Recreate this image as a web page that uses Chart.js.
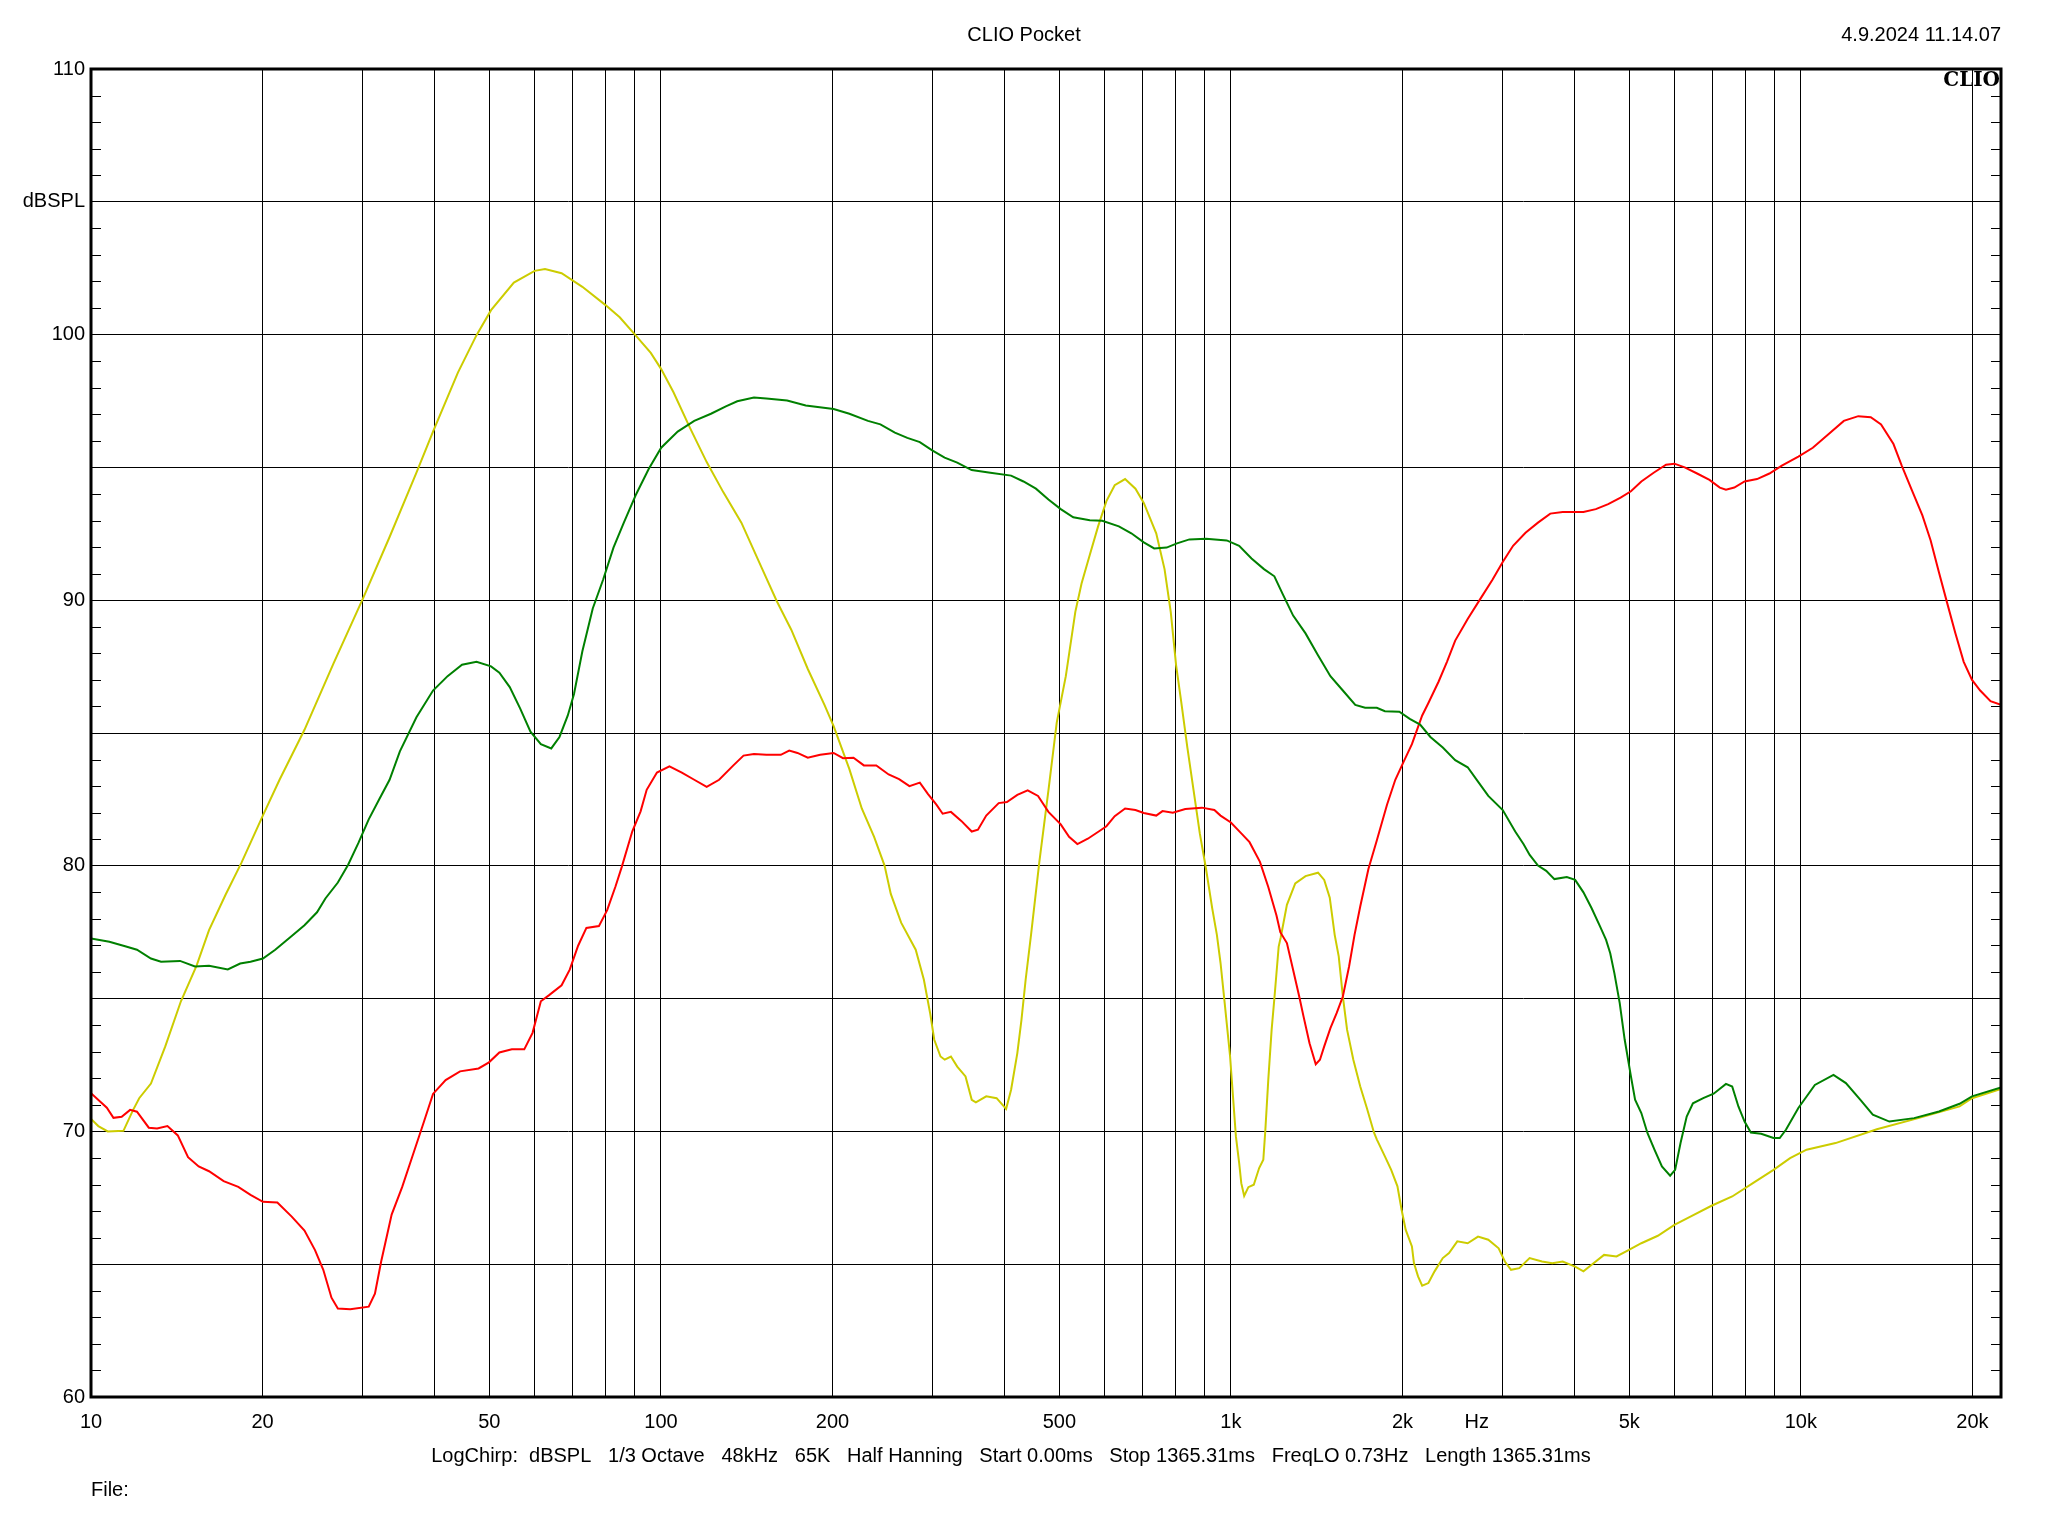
<!DOCTYPE html>
<html><head><meta charset="utf-8">
<script src="https://cdn.jsdelivr.net/npm/chart.js@4.4.1/dist/chart.umd.min.js"></script>
<style>html,body{margin:0;padding:0;background:#fff;}canvas{display:block;}</style>
</head><body>
<canvas id="c" width="2048" height="1536"></canvas>
<script>
// ---- data: [frequency Hz, dBSPL] ----
const yellowCurve = [[10,70.47],[10.3,70.2],[10.7,70.0],[11.4,70.02],[11.85,70.8],[12.15,71.25],[12.74,71.8],[13.5,73.2],[14.38,74.9],[15.32,76.24],[16.11,77.58],[17.23,78.92],[18.36,80.11],[20.03,81.9],[21.42,83.24],[23.69,85.12],[26.63,87.61],[30.05,90.1],[33.41,92.38],[37.24,94.8],[39.82,96.35],[44.03,98.57],[47.47,99.98],[50.34,100.92],[55.2,101.96],[60.03,102.4],[62.6,102.47],[66.94,102.31],[72.8,101.8],[79.84,101.12],[84.66,100.65],[90.2,99.98],[95.98,99.31],[100.1,98.7],[105.2,97.83],[112.5,96.48],[120.3,95.2],[128.7,94.06],[138.4,92.92],[150.6,91.17],[159.7,89.96],[169.3,88.89],[181,87.41],[193.6,86.06],[200.9,85.26],[214.1,83.64],[225.1,82.16],[236.6,81.09],[246.8,80.01],[253.1,78.94],[263.9,77.86],[279.9,76.84],[289.3,75.71],[296.7,74.45],[301.7,73.45],[309.4,72.82],[314.7,72.7],[322.7,72.82],[331,72.44],[342.3,72.07],[351,71.19],[356.9,71.09],[372.2,71.32],[388.1,71.25],[403.3,70.85],[411.5,71.57],[422,72.95],[429.1,74.2],[436.4,75.71],[446,77.4],[461.2,80.14],[478.5,82.84],[494.8,85.39],[513.3,87.14],[533.4,89.56],[547,90.63],[565.6,91.71],[584.8,92.78],[604.8,93.73],[625.4,94.33],[652.2,94.56],[680.1,94.2],[703.4,93.66],[739.6,92.52],[764.9,91.17],[784.3,89.56],[801.6,87.54],[817.9,86.2],[838.8,84.45],[860.1,82.84],[882,81.22],[904.5,79.88],[927.4,78.4],[945,77.4],[959.1,76.34],[975.3,74.83],[996.8,72.82],[1008.5,71.32],[1020.5,69.81],[1034.2,68.8],[1042.9,68.05],[1055.2,67.57],[1073.2,67.9],[1096.9,67.99],[1121,68.62],[1140,68.93],[1149.5,70.06],[1163.1,71.94],[1179,73.83],[1192.9,75.08],[1213,76.96],[1223,77.3],[1254,78.53],[1297,79.34],[1352,79.61],[1422,79.74],[1458,79.47],[1491,78.8],[1521,77.4],[1546,76.59],[1572,75.08],[1599,73.83],[1640,72.7],[1686,71.7],[1731,70.9],[1783,69.95],[1803,69.7],[1863,69.06],[1911,68.55],[1960,67.93],[1993,67.05],[2026,66.3],[2078,65.67],[2095,65.04],[2130,64.54],[2166,64.19],[2221,64.29],[2277,64.73],[2354,65.23],[2414,65.42],[2496,65.86],[2603,65.79],[2714,66.04],[2829,65.92],[2950,65.6],[3025,65.1],[3101,64.79],[3206,64.85],[3343,65.23],[3515,65.1],[3664,65.04],[3821,65.1],[4018,64.91],[4155,64.73],[4295,64.98],[4516,65.35],[4749,65.29],[4994,65.54],[5250,65.79],[5612,66.07],[6000,66.48],[6414,66.8],[6971,67.2],[7578,67.55],[8240,68.05],[8955,68.55],[9575,68.99],[10235,69.31],[11505,69.56],[13595,70.08],[16070,70.5],[18990,70.94],[19970,71.25],[22450,71.6]];

const greenCurve = [[10,77.26],[10.77,77.14],[11.52,76.96],[12.04,76.84],[12.74,76.51],[13.27,76.39],[14.33,76.42],[15.22,76.21],[16.11,76.24],[17.38,76.1],[18.27,76.32],[19.05,76.39],[20.03,76.51],[21.05,76.84],[22.5,77.36],[23.69,77.76],[24.92,78.25],[25.78,78.77],[27.11,79.37],[28.26,80.04],[29.46,80.86],[30.71,81.75],[32.01,82.49],[33.41,83.24],[34.83,84.31],[37.24,85.59],[39.82,86.6],[42.23,87.14],[44.77,87.57],[47.47,87.68],[50.34,87.51],[52.06,87.27],[54.29,86.73],[56.61,85.93],[59.03,85.05],[61.56,84.58],[64.2,84.42],[66.37,84.85],[68.64,85.66],[70.38,86.47],[72.8,88.08],[75.92,89.69],[79.16,90.77],[82.55,91.98],[86.08,92.92],[90.51,94.0],[95.17,94.94],[100.1,95.74],[107,96.35],[114.4,96.75],[122.4,97.02],[130,97.3],[136.1,97.49],[145.6,97.63],[153.1,97.59],[166.5,97.52],[179.5,97.33],[200.9,97.2],[214.1,97.02],[230.8,96.75],[242.7,96.62],[257.3,96.31],[270.6,96.11],[284.6,95.95],[299.2,95.64],[314.6,95.37],[331,95.18],[350.9,94.9],[378.4,94.8],[411.5,94.69],[432.6,94.47],[454.9,94.2],[478.5,93.79],[502.9,93.43],[529,93.12],[565.6,93.01],[594.7,92.99],[636,92.78],[668.8,92.52],[703.4,92.18],[733.5,91.95],[771.3,91.98],[804.3,92.14],[845.7,92.29],[904.5,92.31],[983.4,92.25],[1034,92.05],[1087,91.57],[1143,91.17],[1192,90.9],[1233,90.23],[1286,89.42],[1352,88.75],[1421,87.94],[1495,87.14],[1572,86.6],[1653,86.06],[1720,85.95],[1803,85.95],[1863,85.82],[1975,85.8],[2060,85.53],[2148,85.32],[2239,84.85],[2354,84.45],[2475,83.98],[2603,83.71],[2714,83.17],[2829,82.63],[2999,82.1],[3154,81.29],[3261,80.82],[3344,80.41],[3458,80.01],[3575,79.81],[3695,79.5],[3885,79.58],[4018,79.47],[4155,79.0],[4295,78.4],[4441,77.73],[4553,77.21],[4630,76.71],[4708,75.96],[4811,74.83],[4909,73.45],[5034,72.07],[5119,71.19],[5250,70.69],[5383,69.93],[5536,69.31],[5705,68.68],[5898,68.33],[6018,68.55],[6151,69.56],[6306,70.56],[6467,71.06],[6742,71.25],[7031,71.42],[7390,71.79],[7578,71.69],[7771,70.94],[7967,70.37],[8171,69.96],[8519,69.91],[8955,69.75],[9183,69.75],[9416,70.06],[9901,70.88],[10583,71.75],[11410,72.13],[11997,71.82],[12722,71.19],[13374,70.63],[14301,70.37],[15807,70.5],[17475,70.75],[18990,71.04],[19970,71.32],[22450,71.65]];

const redCurve = [[10,71.44],[10.66,70.89],[10.95,70.51],[11.32,70.55],[11.71,70.81],[12.04,70.74],[12.63,70.14],[13.06,70.11],[13.62,70.2],[14.2,69.85],[14.8,69.03],[15.45,68.68],[16.11,68.5],[17.09,68.13],[18.13,67.91],[19.05,67.61],[20.03,67.35],[21.23,67.32],[22.5,66.79],[23.69,66.27],[24.72,65.53],[25.56,64.79],[26.42,63.74],[27.11,63.33],[28.5,63.3],[30.71,63.4],[31.49,63.89],[32.28,65.08],[33.69,66.87],[35.16,67.91],[36.69,69.1],[38.28,70.29],[39.82,71.41],[41.9,71.93],[44.41,72.26],[47.87,72.37],[49.92,72.6],[52.06,72.97],[54.75,73.09],[57.57,73.09],[59.53,73.71],[61.56,74.9],[63.65,75.13],[66.94,75.5],[69.18,76.09],[71.56,76.99],[74,77.66],[77.83,77.73],[80.47,78.33],[83.22,79.22],[85.37,79.96],[89.08,81.3],[92.11,82.05],[94.4,82.86],[98.4,83.51],[103.5,83.74],[108.8,83.51],[114.4,83.24],[120.3,82.97],[126.5,83.24],[134,83.78],[139.6,84.15],[145.6,84.21],[153.1,84.18],[162.3,84.18],[167.9,84.34],[173.6,84.25],[181,84.07],[190.3,84.18],[200.9,84.25],[208.7,84.05],[217.7,84.07],[227,83.78],[238.7,83.78],[250.9,83.44],[261.7,83.26],[272.9,83.0],[284.6,83.13],[294.2,82.7],[304.3,82.3],[312.1,81.96],[322.7,82.03],[336.5,81.69],[351,81.29],[359.9,81.36],[372.2,81.89],[391.4,82.36],[404.6,82.4],[422,82.67],[440,82.84],[458.8,82.63],[478.5,82.03],[502.9,81.56],[520.1,81.09],[537.9,80.82],[561,81.02],[589.8,81.33],[604.8,81.49],[625.4,81.87],[652.2,82.16],[680.1,82.1],[703.4,81.99],[739.6,81.89],[758.6,82.06],[790.9,82.0],[831.7,82.14],[889.5,82.19],[935.4,82.1],[959.1,81.89],[1000,81.63],[1042.9,81.22],[1078.3,80.89],[1124.6,80.15],[1163.1,79.2],[1202.3,78.13],[1221,77.5],[1254,77.09],[1286,76.08],[1318,75.08],[1341,74.33],[1374,73.32],[1409,72.53],[1433,72.7],[1458,73.2],[1495,73.89],[1533,74.45],[1572,75.08],[1612,76.21],[1648,77.4],[1686,78.46],[1743,79.88],[1803,80.95],[1879,82.3],[1943,83.24],[2009,83.91],[2078,84.58],[2166,85.66],[2221,86.13],[2315,86.94],[2394,87.68],[2475,88.48],[2603,89.29],[2736,90.03],[2877,90.77],[2999,91.44],[3127,92.05],[3288,92.54],[3458,92.92],[3634,93.26],[3821,93.32],[4155,93.32],[4368,93.43],[4592,93.62],[4828,93.86],[5034,94.1],[5250,94.47],[5518,94.8],[5801,95.1],[6000,95.14],[6256,95.0],[6577,94.77],[6914,94.53],[7209,94.24],[7390,94.16],[7643,94.24],[7967,94.47],[8378,94.56],[8809,94.77],[9262,95.07],[9901,95.41],[10496,95.74],[11127,96.21],[11896,96.75],[12613,96.93],[13266,96.89],[13828,96.62],[14540,95.88],[15033,95.07],[15673,94.13],[16341,93.19],[16896,92.25],[17475,91.04],[18064,89.89],[18677,88.75],[19310,87.68],[19970,87.0],[20640,86.6],[21520,86.2],[22450,86.06]];

const seriesColors = ['rgb(204,204,0)', 'rgb(0,128,0)', 'rgb(255,0,0)'];

// ---- axes ----
const xMin = 10, xMax = 22450;
const xGridValues = [10,20,30,40,50,60,70,80,90,100,200,300,400,500,600,700,800,900,1000,2000,3000,4000,5000,6000,7000,8000,9000,10000,20000];
const xUnitTick = 2700;
const xTickLabels = {10:'10',20:'20',50:'50',100:'100',200:'200',500:'500',1000:'1k',2000:'2k',2700:'Hz',5000:'5k',10000:'10k',20000:'20k'};
const yMin = 60, yMax = 110, yStep = 5;
const yTickLabels = {110:'110',105:'dBSPL',100:'100',90:'90',80:'80',70:'70',60:'60'};

// ---- texts ----
const titleText = 'CLIO Pocket';
const dateText = '4.9.2024 11.14.07';
const logoText = 'CLIO';
const infoText = 'LogChirp:  dBSPL   1/3 Octave   48kHz   65K   Half Hanning   Start 0.00ms   Stop 1365.31ms   FreqLO 0.73Hz   Length 1365.31ms';
const fileText = 'File:';

const FONT = '"Liberation Sans", Arial, sans-serif';

const decorPlugin = {
  id: 'decor',
  afterDatasetsDraw(chart) {
    const { ctx, chartArea: a } = chart;
    const y = chart.scales.y;
    ctx.save();
    // minor ticks every 1 dB on both sides
    ctx.strokeStyle = '#000';
    ctx.lineWidth = 1;
    ctx.beginPath();
    for (let v = yMin; v <= yMax; v++) {
      if (v % yStep === 0) continue;
      const py = Math.round(y.getPixelForValue(v)) + 0.5;
      ctx.moveTo(a.left, py); ctx.lineTo(a.left + 10, py);
      ctx.moveTo(a.right - 10, py); ctx.lineTo(a.right, py);
    }
    ctx.stroke();
    // frame
    ctx.lineWidth = 3;
    ctx.strokeRect(Math.round(a.left), Math.round(a.top), Math.round(a.right - a.left), Math.round(a.bottom - a.top));
    // texts
    ctx.fillStyle = '#000';
    ctx.textBaseline = 'middle';
    ctx.font = '20px ' + FONT;
    ctx.textAlign = 'center';
    ctx.fillText(titleText, chart.width / 2, 35.5);
    ctx.textAlign = 'right';
    ctx.fillText(dateText, a.right, 35.5);
    ctx.textAlign = 'center';
    ctx.fillText(infoText, 1011, 1456.5);
    ctx.textAlign = 'left';
    ctx.fillText(fileText, a.left, 1490.5);
    ctx.font = 'bold 20px "DejaVu Serif", "Liberation Serif", serif';
    ctx.textAlign = 'right';
    ctx.fillText(logoText, a.right - 1, 80.5);
    ctx.restore();
  }
};

const toPoints = arr => arr.map(p => ({ x: p[0], y: p[1] }));

new Chart(document.getElementById('c'), {
  type: 'scatter',
  data: {
    datasets: [
      { data: toPoints(greenCurve), borderColor: seriesColors[1] },
      { data: toPoints(redCurve), borderColor: seriesColors[2] },
      { data: toPoints(yellowCurve), borderColor: seriesColors[0] }
    ].map(d => Object.assign(d, { showLine: true, borderWidth: 2, pointRadius: 0, pointHoverRadius: 0, tension: 0, fill: false }))
  },
  options: {
    responsive: false,
    animation: false,
    events: [],
    layout: { padding: { left: 0, top: 69, right: 47, bottom: 0 } },
    plugins: { legend: { display: false }, tooltip: { enabled: false }, title: { display: false } },
    scales: {
      x: {
        type: 'logarithmic',
        min: xMin, max: xMax,
        afterBuildTicks: s => { s.ticks = xGridValues.concat([xUnitTick]).sort((p, q) => p - q).map(v => ({ value: v })); },
        afterFit: s => { s.height = 139; },
        ticks: {
          autoSkip: false, maxRotation: 0, minRotation: 0, padding: 13,
          color: '#000', font: { family: FONT, size: 20 },
          callback: v => (xTickLabels[v] !== undefined ? xTickLabels[v] : '')
        },
        grid: {
          drawTicks: false, lineWidth: 1,
          color: c => (c.tick && c.tick.value === xUnitTick ? 'rgba(0,0,0,0)' : '#000')
        },
        border: { display: false }
      },
      y: {
        type: 'linear',
        min: yMin, max: yMax,
        afterFit: s => { s.width = 91; },
        ticks: {
          stepSize: yStep, autoSkip: false, padding: 6,
          color: '#000', font: { family: FONT, size: 20, lineHeight: 1.0 },
          callback: v => (yTickLabels[v] !== undefined ? yTickLabels[v] : '')
        },
        grid: { drawTicks: false, lineWidth: 1, color: '#000' },
        border: { display: false }
      }
    }
  },
  plugins: [decorPlugin]
});
</script>
</body></html>
